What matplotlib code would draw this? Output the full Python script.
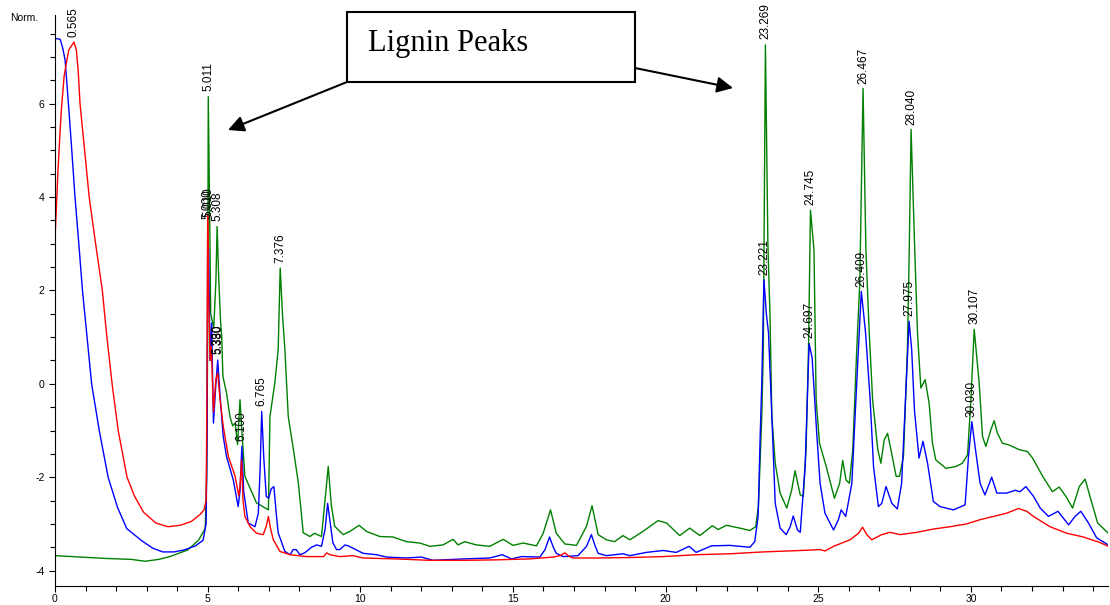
import matplotlib
matplotlib.use("Agg")
import matplotlib.pyplot as plt
from matplotlib.patches import Rectangle
from matplotlib.ticker import MultipleLocator

# --- DATA ---
red_t = [0.0, 0.1, 0.2, 0.3, 0.45, 0.62, 0.7, 0.76, 0.82, 0.97, 1.12, 1.33, 1.55, 1.7, 1.87,
         2.07, 2.36, 2.6, 2.9, 3.3, 3.7, 4.1, 4.46, 4.75, 4.88, 4.95, 4.98, 5.0, 5.03, 5.08,
         5.12, 5.19, 5.27, 5.33, 5.4, 5.51, 5.68, 5.9, 6.02, 6.06, 6.11, 6.16, 6.22, 6.39, 6.6,
         6.82, 6.92, 6.99, 7.06, 7.15, 7.37, 7.7, 8.24, 8.8, 8.9, 9.0, 9.33, 9.76, 10.09, 11.18,
         12.28, 13.37, 14.46, 15.55, 16.31, 16.55, 16.7, 16.85, 16.97, 17.73, 18.83, 19.92, 21.0,
         22.1, 23.2, 24.4, 25.06, 25.22, 25.5, 26.04, 26.32, 26.45, 26.59, 26.75, 27.08, 27.35,
         27.68, 28.23, 28.77, 29.32, 29.86, 30.3, 30.74, 31.17, 31.56, 31.83, 32.05, 32.59,
         33.14, 33.68, 34.23, 34.5]
red_v = [3.1, 4.6, 5.8, 6.6, 7.15, 7.32, 7.15, 6.7, 6.0, 5.0, 4.0, 3.0, 2.0, 1.0, 0.0,
         -1.0, -2.0, -2.4, -2.75, -2.98, -3.06, -3.03, -2.95, -2.8, -2.7, -2.5, 0.0, 3.6, 2.0, 0.5,
         0.8, -0.6, 0.1, 0.23, -0.3, -0.91, -1.56, -1.98, -2.4, -2.2, -1.63, -2.5, -2.84, -3.06, -3.2,
         -3.23, -3.05, -2.84, -3.1, -3.34, -3.59, -3.66, -3.7, -3.7, -3.62, -3.66, -3.7, -3.68, -3.73, -3.75,
         -3.78, -3.78, -3.77, -3.75, -3.71, -3.68, -3.62, -3.7, -3.73, -3.73, -3.72, -3.7, -3.66,
         -3.64, -3.6, -3.57, -3.55, -3.58, -3.48, -3.34, -3.2, -3.07, -3.23, -3.34, -3.23, -3.18,
         -3.23, -3.18, -3.11, -3.06, -3.0, -2.91, -2.84, -2.77, -2.67, -2.73, -2.84, -3.06,
         -3.2, -3.28, -3.4, -3.48]

blue_t = [0.0, 0.17, 0.25, 0.33, 0.44, 0.55, 0.655, 0.78, 0.9, 1.05, 1.2, 1.45, 1.74, 2.05, 2.35,
          2.84, 3.2, 3.53, 3.9, 4.22, 4.6, 4.85, 4.95, 4.98, 5.0, 5.03, 5.08, 5.13, 5.19, 5.27,
          5.33, 5.4, 5.51, 5.62, 5.84, 6.0, 6.06, 6.12, 6.18, 6.33, 6.55, 6.66, 6.72, 6.77, 6.84,
          6.92, 7.0, 7.08, 7.17, 7.25, 7.31, 7.53, 7.7, 7.8, 7.9, 8.02, 8.18, 8.4, 8.57, 8.73,
          8.85, 8.93, 9.0, 9.1, 9.22, 9.33, 9.5, 9.6, 9.76, 10.09, 10.53, 10.86, 11.51, 12.0,
          12.38, 13.37, 14.24, 14.65, 14.95, 15.28, 15.88, 16.05, 16.2, 16.32, 16.42, 16.64,
          17.13, 17.41, 17.57, 17.68, 17.79, 18.06, 18.6, 18.83, 19.37, 19.92, 20.35, 20.77,
          21.0, 21.5, 22.1, 22.76, 22.92, 23.03, 23.1, 23.15, 23.22, 23.3, 23.37, 23.48, 23.59,
          23.75, 23.95, 24.08, 24.18, 24.32, 24.41, 24.57, 24.7, 24.8, 24.95, 25.06, 25.22, 25.5,
          25.66, 25.75, 25.9, 26.1, 26.26, 26.41, 26.55, 26.7, 26.81, 26.97, 27.08, 27.22, 27.41,
          27.59, 27.73, 27.88, 27.975, 28.06, 28.15, 28.3, 28.43, 28.58, 28.77, 28.99, 29.43,
          29.81, 29.92, 30.03, 30.15, 30.3, 30.46, 30.68, 30.85, 31.17, 31.45, 31.61, 31.8,
          32.05, 32.27, 32.54, 32.85, 33.2, 33.41, 33.6, 33.85, 34.12, 34.5]
blue_v = [7.4, 7.38, 7.2, 6.94, 6.0, 5.0, 4.0, 3.0, 2.0, 1.0, 0.0, -1.0, -2.0, -2.65, -3.1,
          -3.36, -3.52, -3.6, -3.6, -3.56, -3.47, -3.35, -3.0, -1.0, 2.95, 2.9, 0.5, 1.3, -0.84, 0.0,
          0.51, -0.2, -1.13, -1.56, -2.06, -2.63, -2.3, -1.34, -2.3, -2.98, -3.06, -2.77, -1.8, -0.59, -1.6,
          -2.41, -2.45, -2.25, -2.2, -2.8, -3.19, -3.59, -3.66, -3.55, -3.55, -3.66, -3.62, -3.5, -3.45, -3.48,
          -3.1, -2.56, -2.9, -3.4, -3.55, -3.55, -3.45, -3.47, -3.52, -3.63, -3.66, -3.71, -3.73, -3.71,
          -3.78, -3.75, -3.73, -3.66, -3.75, -3.7, -3.71, -3.55, -3.28, -3.5, -3.63, -3.7,
          -3.68, -3.48, -3.23, -3.45, -3.63, -3.68, -3.64, -3.68, -3.61, -3.57, -3.61, -3.48,
          -3.61, -3.47, -3.46, -3.5, -3.38, -2.84, -1.06, 0.02, 2.23, 1.5, 1.09, -0.7, -2.56,
          -3.09, -3.23, -3.06, -2.83, -3.13, -3.18, -1.77, 0.86, 0.55, -1.06, -2.13, -2.77, -3.13,
          -2.91, -2.7, -2.84, -2.13, 0.02, 1.98, 1.09, -0.34, -1.77, -2.63, -2.56, -2.2, -2.56,
          -2.68, -2.13, 0.02, 1.34, 0.73, -0.56, -1.59, -1.23, -1.7, -2.52, -2.63, -2.7,
          -2.59, -1.56, -0.81, -1.41, -2.13, -2.38, -2.0, -2.34, -2.34, -2.28, -2.31, -2.2,
          -2.41, -2.66, -2.84, -2.73, -3.02, -2.84, -2.73, -2.98, -3.3, -3.45]

green_t = [0.0, 1.68, 2.5, 2.95, 3.4, 3.76, 4.34, 4.7, 4.92, 4.97, 5.0, 5.02, 5.06, 5.1, 5.2,
           5.27, 5.31, 5.36, 5.42, 5.46, 5.5, 5.62, 5.73, 5.82, 5.9, 5.98, 6.06, 6.12, 6.22, 6.6,
           6.99, 7.04, 7.2, 7.31, 7.376, 7.45, 7.53, 7.64, 7.81, 7.97, 8.13, 8.35, 8.5, 8.73, 8.95,
           9.05, 9.16, 9.44, 9.66, 9.96, 10.2, 10.64, 11.07, 11.51, 11.95, 12.28, 12.71, 13.04,
           13.2, 13.42, 13.8, 14.24, 14.68, 15.0, 15.33, 15.77, 15.99, 16.23, 16.42, 16.7, 17.08,
           17.41, 17.59, 17.79, 18.06, 18.33, 18.6, 18.83, 19.26, 19.75, 20.03, 20.46, 20.79,
           21.12, 21.53, 21.72, 21.99, 22.43, 22.76, 22.95, 23.04, 23.15, 23.2, 23.269, 23.35,
           23.42, 23.48, 23.59, 23.75, 23.97, 24.13, 24.24, 24.41, 24.51, 24.6, 24.68, 24.745,
           24.86, 24.93, 25.04, 25.26, 25.53, 25.7, 25.8, 25.91, 26.02, 26.13, 26.26, 26.36,
           26.467, 26.56, 26.67, 26.78, 26.95, 27.05, 27.16, 27.27, 27.38, 27.55, 27.66, 27.79,
           27.92, 27.98, 28.04, 28.16, 28.25, 28.36, 28.5, 28.63, 28.74, 28.85, 29.18, 29.51,
           29.72, 29.89, 30.0, 30.107, 30.27, 30.38, 30.49, 30.65, 30.76, 30.87, 31.03, 31.25,
           31.58, 31.85, 32.02, 32.35, 32.67, 32.89, 33.11, 33.33, 33.55, 33.74, 33.93, 34.15, 34.5]
green_v = [-3.68, -3.74, -3.76, -3.8, -3.76, -3.7, -3.56, -3.35, -3.1, -2.0, 1.0, 6.15, 4.0, 1.5, 1.2,
           2.2, 3.37, 2.3, 1.37, 1.01, 0.16, -0.2, -0.7, -0.9, -0.84, -1.3, -0.34, -1.0, -1.98, -2.55,
           -2.7, -0.7, 0.02, 0.73, 2.48, 1.5, 0.73, -0.7, -1.41, -2.12, -3.19, -3.27, -3.2, -3.27, -1.77,
           -2.6, -3.05, -3.23, -3.16, -3.03, -3.16, -3.27, -3.28, -3.38, -3.41, -3.48, -3.45, -3.33,
           -3.45, -3.38, -3.45, -3.48, -3.33, -3.46, -3.41, -3.47, -3.2, -2.7, -3.2, -3.43, -3.46,
           -3.05, -2.61, -3.23, -3.34, -3.38, -3.25, -3.34, -3.16, -2.93, -2.98, -3.25, -3.09,
           -3.25, -3.04, -3.12, -3.03, -3.09, -3.14, -3.06, -2.63, -0.7, 0.73, 7.26, 3.0,
           1.44, -0.7, -1.7, -2.34, -2.66, -2.27, -1.86, -2.38, -2.41, -1.41, 0.73, 3.72,
           2.87, -0.34, -1.27, -1.77, -2.45, -2.13, -1.64, -2.06, -2.13, -1.41, 0.73, 2.16,
           6.33, 2.87, 1.09, -0.34, -1.41, -1.7, -1.2, -1.06, -1.41, -1.98, -1.98, -1.56,
           0.73, 2.87, 5.45, 2.87, 1.09, -0.09, 0.09, -0.41, -1.27, -1.63, -1.81, -1.77,
           -1.7, -1.52, -0.34, 1.17, 0.02, -1.13, -1.34, -0.99, -0.79, -1.06, -1.27, -1.31,
           -1.41, -1.45, -1.59, -1.98, -2.31, -2.21, -2.41, -2.66, -2.2, -2.04, -2.48, -2.98, -3.2]

peak_labels = ["0.565", "5.011", "5.000", "5.010", "5.308", "5.330", "5.380", "6.100", "6.765",
               "7.376", "23.221", "23.269", "24.697", "24.745", "26.409", "26.467", "27.975",
               "28.040", "30.030", "30.107"]
peak_t = [0.62, 5.011, 4.99, 5.03, 5.308, 5.33, 5.36, 6.10, 6.765, 7.376, 23.221, 23.269,
          24.697, 24.745, 26.409, 26.467, 27.975, 28.040, 30.030, 30.107]
peak_v = [7.35, 6.2, 3.45, 3.5, 3.4, 0.55, 0.55, -1.3, -0.55, 2.5, 2.25, 7.3, 0.9, 3.75,
          2.0, 6.35, 1.37, 5.47, -0.78, 1.2]

W, H = 1110, 605
fig = plt.figure(figsize=(W / 100, H / 100), dpi=100, facecolor="white")
ax = fig.add_axes([55 / W, (H - 586) / H, (1108 - 55) / W, (586 - 15) / H])

ax.plot(green_t, green_v, color="#008000", lw=1.0)
ax.plot(blue_t, blue_v, color="#0000ff", lw=1.0)
ax.plot(red_t, red_v, color="#ff0000", lw=1.0)

for lab, t, v in zip(peak_labels, peak_t, peak_v):
    ax.text(t, v + 0.08, lab, rotation=90, ha="center", va="bottom", fontsize=8.5,
            family="Liberation Sans", color="black", clip_on=False)

ax.set_xlim(0, 34.49)
ax.set_ylim(-4.33, 7.9)
for s in ["top", "right"]:
    ax.spines[s].set_visible(False)
ax.xaxis.set_major_locator(MultipleLocator(5))
ax.xaxis.set_minor_locator(MultipleLocator(1))
ax.yaxis.set_major_locator(MultipleLocator(2))
ax.yaxis.set_minor_locator(MultipleLocator(0.5))
ax.tick_params(which="both", direction="out", labelsize=7.5, width=0.8)
ax.tick_params(which="major", length=4.5)
ax.tick_params(which="minor", length=3.5)
ax.tick_params(axis="x", which="major", pad=1)
ax.tick_params(axis="y", which="major", pad=3)
ax.yaxis.set_major_formatter(plt.FuncFormatter(lambda y, p: f"{y:.0f}"))
for lbl in ax.get_xticklabels() + ax.get_yticklabels():
    lbl.set_family("Liberation Sans")

fig.text(10 / W, 1 - 18 / H, "Norm.", fontsize=7.5, family="Liberation Sans", va="center")

# --- annotation box and arrows ---
fig.add_artist(Rectangle((347 / W, 1 - 82 / H), (635 - 347) / W, 70 / H,
                         transform=fig.transFigure, fill=False, edgecolor="black", lw=1.5))
fig.text(368 / W, 1 - 44 / H, "Lignin Peaks", fontsize=22, family="Liberation Serif", va="center")
arrow = dict(arrowstyle="-|>", color="black", lw=1.5, mutation_scale=24, shrinkA=0, shrinkB=0)
ax.annotate("", xy=(228 / W, 1 - 130 / H), xytext=(347 / W, 1 - 82 / H),
            xycoords="figure fraction", textcoords="figure fraction", arrowprops=arrow)
ax.annotate("", xy=(733 / W, 1 - 88 / H), xytext=(635 / W, 1 - 68 / H),
            xycoords="figure fraction", textcoords="figure fraction", arrowprops=arrow)

fig.savefig("out.png", dpi=100)
